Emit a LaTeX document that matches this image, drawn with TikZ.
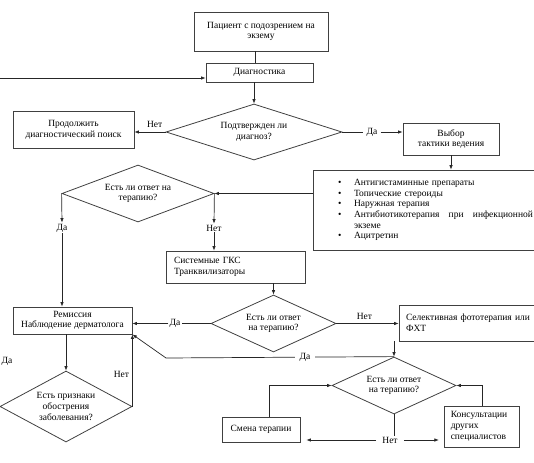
\documentclass[tikz,border=0pt]{standalone}
\usepackage{fontspec}
\setmainfont{Liberation Serif}
\usetikzlibrary{shapes.geometric,arrows.meta}
\tikzset{
  every node/.style={font=\fontsize{9.5}{10.7}\selectfont, text=black},
  box/.style={draw=black!75, line width=0.8pt, inner sep=0pt, align=center},
  lbox/.style={draw=black!75, line width=0.8pt, inner ysep=0pt, align=left},
  dia/.style={draw=black!75, line width=0.8pt, diamond, inner sep=0pt, align=center},
  lbl/.style={inner sep=1pt},
  conn/.style={draw=black!85, line width=0.7pt},
  arr/.style={conn, -{Latex[length=4.5pt,width=3.5pt]}},
}
\begin{document}
\begin{tikzpicture}[x=1pt,y=-1pt]
\useasboundingbox (0,0) rectangle (534,462);
\clip (0,0) rectangle (534,462);
% boxes
\node[box, minimum width=134, minimum height=39] (B0) at (261,31.5) {Пациент с подозрением на\\экзему};
\node[box, minimum width=107, minimum height=19] (B1) at (259.5,72.5) {Диагностика};
\node[box, minimum width=121, minimum height=37] (B2) at (73.5,129.5) {Продолжить\\диагностический поиск};
\node[box, minimum width=96, minimum height=32] (B3) at (451,139) {Выбор\\тактики ведения};
\node[lbox, inner xsep=12pt, text width=208, minimum height=80] (B4) at (429,210)
  {\hspace*{13pt}\makebox[16pt][l]{•}Антигистаминные препараты\\
   \hspace*{13pt}\makebox[16pt][l]{•}Топические стероиды\\
   \hspace*{13pt}\makebox[16pt][l]{•}Наружная терапия\\
   \hspace*{13pt}\makebox[16pt][l]{•}Антибиотикотерапия\hfill при\hfill инфекционной\\
   \hspace*{29pt}экземе\\
   \hspace*{13pt}\makebox[16pt][l]{•}Ацитретин};
\node[lbox, inner xsep=8pt, text width=123, minimum height=32] (B5) at (235.5,267) {Системные ГКС\\Транквилизаторы};
\node[box, minimum width=119, minimum height=27] (B6) at (72.5,320.5) {Ремиссия\\Наблюдение дерматолога};
\node[lbox, inner xsep=7pt, text width=132, minimum height=36] (B7) at (472,323) {Селективная фототерапия или\\ФХТ};
\node[box, minimum width=78, minimum height=25] (B8) at (261,429.5) {Смена терапии};
\node[lbox, inner xsep=6.5pt, text width=62.5, minimum height=41] (B9) at (482,426.5) {Консультации\\других\\специалистов};
% diamonds
\node[dia, aspect=3.14, minimum width=176, minimum height=56] (D1) at (254,132) {Подтвержден ли\\диагноз?};
\node[dia, aspect=2.67, minimum width=152, minimum height=57] (D2) at (138,193.5) {Есть ли ответ на\\терапию?};
\node[dia, aspect=2.19, minimum width=125, minimum height=57] (D3) at (273.5,323.5) {Есть ли ответ\\на терапию?};
\node[dia, aspect=2.18, minimum width=124, minimum height=57] (D4) at (394,385.5) {Есть ли ответ\\на терапию?};
\node[dia, aspect=1.86, minimum width=132, minimum height=71] (D5) at (66,406.5) {Есть признаки\\обострения\\заболевания?};
% labels
\node[lbl] (daA) at (372,132) {Да};
\node[lbl] (daB) at (62,228) {Да};
\node[lbl] (netB) at (214,228) {Нет};
\node[lbl] (daC) at (175,323.5) {Да};
\node[lbl] (daD) at (7,361) {Да};
\node[lbl] (netC) at (390,440) {Нет};
% helper coordinates
\coordinate (x255) at (255,0);
\coordinate (x269) at (269,0);
\coordinate (L) at (0,78);
\coordinate (c1) at (166,358);
% connectors
\draw[conn] (B0.south -| x255) -- (B1.north -| x255);
\draw[arr] (B1.south -| D1.north) -- (D1.north);
\draw[arr] (L) -- (L -| B1.west);
\draw[arr] (D1.west) -- node[lbl, above=3pt, pos=0.35]{Нет} (D1.west -| B2.east);
\draw[conn, shorten >=2pt] (D1.east) -- (daA.west);
\draw[arr, shorten <=2pt] (daA.east) -- (daA -| B3.west);
\draw[arr] (B3.south) -- (B3.south |- B4.north);
\draw[arr] (B4.west |- D2.east) -- (D2.east);
\draw[arr] (D2.west) -- (daB.north);
\draw[arr] (daB.south) -- (daB.south |- B6.north);
\draw[arr] (D2.east) -- (netB.north);
\draw[arr] (netB.south) -- (netB.south |- B5.north);
\draw[arr] (B5.south -| D3.north) -- (D3.north);
\draw[conn] (D3.west) -- (daC.east);
\draw[arr] (daC.west) -- (daC -| B6.east);
\draw[arr] (D3.east) -- node[lbl, above=3pt, pos=0.45]{Нет} (D3.east -| B7.west);
\draw[arr] (B7.south -| D4.north) -- (D4.north);
\draw[arr] (D4.north) -- node[lbl, fill=white, inner xsep=5pt, pos=0.39]{Да} (c1) -- (B6.south east);
\draw[arr] (B6.south -| D5.north) -- (D5.north);
\draw[arr] (D5.east) -- node[lbl, left=2pt, pos=0.45]{Нет} (D5.east |- B6.south);
\draw[arr] (B8.north -| x269) |- (D4.west);
\draw[arr] (B9.north) |- (D4.east);
\draw[conn] (D4.south) -- (D4.south |- netC.north);
\draw[arr, shorten <=5pt, shorten >=6pt] (netC.west) -- (netC.west -| B8.east);
\draw[arr, shorten <=5pt, shorten >=5pt] (netC.east) -- (netC.east -| B9.west);
\end{tikzpicture}
\end{document}
